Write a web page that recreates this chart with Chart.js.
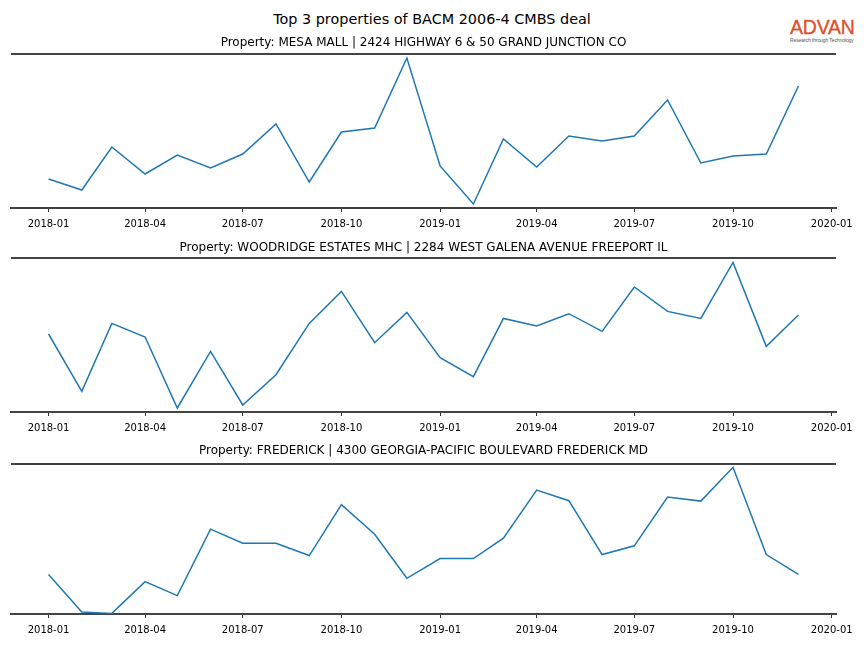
<!DOCTYPE html>
<html>
<head>
<meta charset="utf-8">
<script src="https://cdn.jsdelivr.net/npm/chart.js@4.4.1/dist/chart.umd.min.js"></script>
<style>
  body { margin: 0; background: #fff; }
  #page { position: relative; width: 864px; height: 648px; overflow: hidden; font-family: "DejaVu Sans", sans-serif; }
  #suptitle { position: absolute; left: 0; top: 10px; width: 864px; text-align: center; font-size: 14.4px; line-height: 18px; color: #000; }
  #logo { position: absolute; left: 790px; top: 16px; width: 70px; font-family: "Liberation Sans", Arial, sans-serif; }
  #logo .brand { font-size: 19.5px; line-height: 22px; color: #e04e2a; letter-spacing: -0.2px; -webkit-text-stroke: 0.3px #e04e2a; }
  #logo .tag { font-size: 5px; line-height: 5px; color: #555; white-space: nowrap; letter-spacing: -0.1px; }
  canvas { position: absolute; left: 0; }
</style>
</head>
<body>
<div id="page">
  <div id="suptitle">Top 3 properties of BACM 2006-4 CMBS deal</div>
  <div id="logo"><div class="brand">ADVAN</div><div class="tag">Research through Technology</div></div>
  <canvas id="c1" width="864" height="206" style="top:30px"></canvas>
  <canvas id="c2" width="864" height="206" style="top:234px"></canvas>
  <canvas id="c3" width="864" height="202" style="top:440px"></canvas>
</div>
<script>
// monthly observations, 2018-01 .. 2019-12
const months = [
  '2018-01', '2018-02', '2018-03', '2018-04', '2018-05', '2018-06',
  '2018-07', '2018-08', '2018-09', '2018-10', '2018-11', '2018-12',
  '2019-01', '2019-02', '2019-03', '2019-04', '2019-05', '2019-06',
  '2019-07', '2019-08', '2019-09', '2019-10', '2019-11', '2019-12'
];
const tickLabels = ['2018-01', '2018-04', '2018-07', '2018-10', '2019-01', '2019-04', '2019-07', '2019-10', '2020-01'];

const titles = [
  'Property: MESA MALL | 2424 HIGHWAY 6 & 50 GRAND JUNCTION CO',
  'Property: WOODRIDGE ESTATES MHC | 2284 WEST GALENA AVENUE FREEPORT IL',
  'Property: FREDERICK | 4300 GEORGIA-PACIFIC BOULEVARD FREDERICK MD'
];

// relative values (no y scale shown in the source)
const mesaMall = [29, 18, 61, 34, 53, 40, 54, 84, 26, 76, 80, 150,
                  42, 4, 69, 41, 72, 67, 72, 108, 45, 52, 54, 122];
const woodridge = [78, 20.6, 88.6, 75, 4, 60.6, 7, 37.3, 88.6, 120.6, 69.3, 99.6,
                   54.3, 35.3, 93.6, 86, 98.3, 80.6, 125, 100.6, 93.6, 149.6, 65.6, 97];
const frederick = [39.3, 2, 0.6, 32.3, 18.3, 84.6, 70.6, 70.6, 58.3, 109, 79.6, 35.6,
                   55.3, 55.3, 75.6, 123.6, 113, 59.3, 68, 116.6, 112.6, 146.3, 59.3, 39.6];
const yLimits = [[0, 154], [0, 154], [0, 149.6]];

function dayOf(m) {
  const [y, mo] = m.split('-').map(Number);
  return (Date.UTC(y, mo - 1, 1) - Date.UTC(2018, 0, 1)) / 86400000;
}
const tickDays = tickLabels.map(dayOf);

const topSpine = {
  id: 'topSpine',
  afterDraw(chart) {
    const { ctx, chartArea } = chart;
    ctx.save();
    ctx.strokeStyle = '#444';
    ctx.lineWidth = 2;
    ctx.beginPath();
    ctx.moveTo(chartArea.left, chartArea.top);
    ctx.lineTo(chartArea.right, chartArea.top);
    ctx.stroke();
    ctx.restore();
  }
};

function makeChart(id, title, values, lim, titlePadBottom) {
  new Chart(document.getElementById(id), {
    type: 'line',
    data: {
      datasets: [{
        data: months.map((m, i) => ({ x: dayOf(m), y: values[i] })),
        borderColor: '#1f77b4',
        borderWidth: 1.5,
        pointRadius: 0,
        tension: 0,
        fill: false
      }]
    },
    options: {
      responsive: false,
      animation: false,
      layout: { padding: { left: 11, right: 28, top: 0, bottom: 0 } },
      plugins: {
        legend: { display: false },
        tooltip: { enabled: false },
        title: {
          display: true,
          text: title,
          color: '#000',
          font: { family: 'DejaVu Sans', size: 12, weight: 'normal' },
          padding: { top: 9.6 - titlePadBottom, bottom: titlePadBottom }
        }
      },
      scales: {
        x: {
          type: 'linear',
          min: -35,
          max: 734,
          afterBuildTicks: axis => { axis.ticks = tickDays.map(v => ({ value: v })); },
          ticks: {
            color: '#000',
            font: { family: 'DejaVu Sans', size: 10 },
            padding: 6,
            maxRotation: 0,
            autoSkip: false,
            callback: v => tickLabels[tickDays.indexOf(v)]
          },
          grid: { display: true, drawOnChartArea: false, drawTicks: true, tickLength: 4, color: '#333', lineWidth: 1 },
          border: { display: true, color: '#444', width: 2 }
        },
        y: { display: false, min: lim[0], max: lim[1] }
      }
    },
    plugins: [topSpine]
  });
}

makeChart('c1', titles[0], mesaMall, yLimits[0], 3.6);
makeChart('c2', titles[1], woodridge, yLimits[1], 3.3);
makeChart('c3', titles[2], frederick, yLimits[2], 5.6);
</script>
</body>
</html>
